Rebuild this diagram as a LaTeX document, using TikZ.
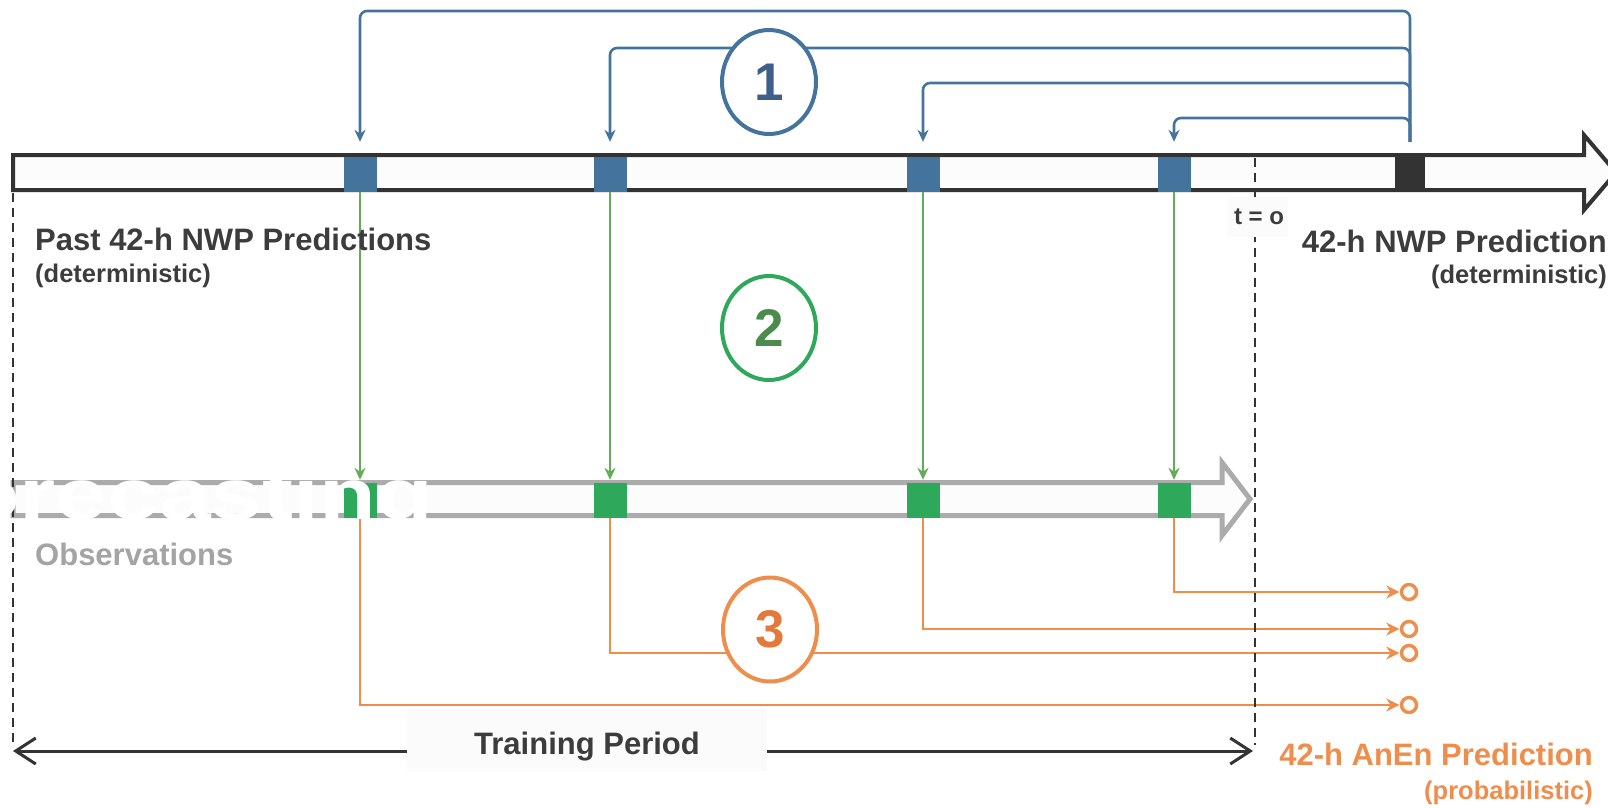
\documentclass[tikz,border=0pt]{standalone}
\usepackage{graphicx}
\usepackage{fontspec}
\setmainfont{Liberation Sans}
\usetikzlibrary{arrows.meta,shapes.geometric}

\definecolor{barline}{HTML}{333333}
\definecolor{nwpblue}{HTML}{44749D}
\definecolor{numblue}{HTML}{3E5F8A}
\definecolor{obsgreen}{HTML}{2EA85A}
\definecolor{linkgreen}{HTML}{62AE58}
\definecolor{numgreen}{HTML}{4B8B4B}
\definecolor{anenorange}{HTML}{EF8D4C}
\definecolor{numorange}{HTML}{E5793A}
\definecolor{obsgray}{HTML}{ABABAB}
\definecolor{obstext}{HTML}{A4A4A4}
\definecolor{labelgray}{HTML}{3C3C3C}
\definecolor{barfill}{HTML}{FCFCFC}
\definecolor{boxfill}{HTML}{FBFBFB}

\begin{document}
\begin{tikzpicture}[x=1pt,y=-1pt,
  bsq/.style={rectangle, fill=nwpblue, minimum width=33pt, minimum height=35pt, inner sep=0pt},
  gsq/.style={rectangle, fill=obsgreen, minimum width=33pt, minimum height=35pt, inner sep=0pt},
  ksq/.style={rectangle, fill=barline, minimum width=30pt, minimum height=35pt, inner sep=0pt},
  stepnum/.style={ellipse, line width=4pt, fill=white, minimum width=94pt, minimum height=104pt,
    inner sep=0pt, font=\fontsize{53}{60}\selectfont\bfseries},
  outc/.style={circle, draw=anenorange, line width=3.4pt, fill=white, minimum size=15pt, inner sep=0pt},
  bline/.style={draw=nwpblue, line width=2.6pt, rounded corners=7pt, -{Stealth[length=12pt,width=11pt]}},
  gline/.style={draw=linkgreen, line width=2pt, -{Stealth[length=12pt,width=11pt]}},
  oline/.style={draw=anenorange, line width=2.6pt, -{Stealth[length=13pt,width=13pt]}},
  tline/.style={draw=barline, line width=2.5pt, dash pattern=on 9pt off 6pt},
  bigtxt/.style={font=\fontsize{31}{36}\selectfont\bfseries, inner sep=0pt, text=labelgray},
  smalltxt/.style={font=\fontsize{25.5}{30}\selectfont\bfseries, inner sep=0pt, text=labelgray}]

\useasboundingbox (0,0) rectangle (1608,807);

% time axis of the NWP forecasts
\draw[barline, line width=4pt, fill=barfill, line join=miter]
  (13,155) -- (1584,155) -- (1584,135) -- (1616,172.5) -- (1584,210) -- (1584,190) -- (13,190) -- cycle;

% time axis of the observations
\draw[obsgray, line width=5pt, fill=barfill, line join=miter]
  (13,482.5) -- (1222,482.5) -- (1222,462.5) -- (1250,499) -- (1222,535.5) -- (1222,515.5) -- (13,515.5) -- cycle;

% past forecasts, current forecast, matching observations
\node[bsq] (b1) at (360,174.5) {};
\node[bsq] (b2) at (610,174.5) {};
\node[bsq] (b3) at (923,174.5) {};
\node[bsq] (b4) at (1174,174.5) {};
\node[ksq] (bk) at (1410,172.5) {};

\node[gsq] (g1) at (360,500.5) {};
\node[gsq] (g2) at (610,500.5) {};
\node[gsq] (g3) at (923,500.5) {};
\node[gsq] (g4) at (1174,500.5) {};

% analog outputs
\node[outc] (o1) at (1409,705) {};
\node[outc] (o2) at (1409,653) {};
\node[outc] (o3) at (1409,629) {};
\node[outc] (o4) at (1409,592) {};

% step 1: search for similar past forecasts
\coordinate (lv1) at (0,11);
\coordinate (lv2) at (0,48);
\coordinate (lv3) at (0,83);
\coordinate (lv4) at (0,118);
\draw[bline, shorten <=13pt, shorten >=15pt] (bk.north) |- (b1.north |- lv1) -- (b1.north);
\draw[bline, shorten <=13pt, shorten >=15pt] (bk.north) |- (b2.north |- lv2) -- (b2.north);
\draw[bline, shorten <=13pt, shorten >=15pt] (bk.north) |- (b3.north |- lv3) -- (b3.north);
\draw[bline, shorten <=13pt, shorten >=15pt] (bk.north) |- (b4.north |- lv4) -- (b4.north);

% step 2: take the verifying observations
\draw[gline, shorten >=3pt] (b1.south) -- (g1.north);
\draw[gline, shorten >=3pt] (b2.south) -- (g2.north);
\draw[gline, shorten >=3pt] (b3.south) -- (g3.north);
\draw[gline, shorten >=3pt] (b4.south) -- (g4.north);

% step 3: observations become ensemble members
\draw[oline, shorten >=0.5pt] (g1.south) |- (o1.west);
\draw[oline, shorten >=0.5pt] (g2.south) |- (o2.west);
\draw[oline, shorten >=0.5pt] (g3.south) |- (o3.west);
\draw[oline, shorten >=0.5pt] (g4.south) |- (o4.west);

% step markers
\node[stepnum, draw=nwpblue, text=numblue] (s1) at (769,82) {1};
\node[stepnum, draw=obsgreen, text=numgreen] (s2) at (769,328) {2};
\node[stepnum, draw=anenorange, text=numorange] (s3) at (770,629.5) {3};

% training window limits
\coordinate (dl1) at (13,193);
\coordinate (dl2) at (13,745);
\coordinate (dr1) at (1255,158);
\coordinate (dr2) at (1255,745);
\draw[tline] (dl1) -- (dl2);
\draw[tline] (dr1) -- (dr2);

\node[fill=boxfill, minimum width=61pt, minimum height=40pt, inner sep=0pt] (tbox) at (1257,217) {};
\node[font=\fontsize{24}{28}\selectfont\bfseries, text=labelgray, anchor=base, inner sep=0pt] (tzero) at (1259,224) {t = o};

% training period
\coordinate (tpl) at (13,751);
\coordinate (tpr) at (1253,751);
\draw[barline, line width=3pt, line cap=round,
  {Straight Barb[length=20pt,width=26pt,line width=3pt]}-{Straight Barb[length=20pt,width=26pt,line width=3pt]}]
  (tpl) -- (tpr);
\node[fill=boxfill, minimum width=360pt, minimum height=62pt, inner sep=0pt] (tpbox) at (587,740) {};
\node[bigtxt, anchor=base] (tptext) at (587,754) {Training Period};

% overprinted heading in white
\node[anchor=base east, text=white, font=\fontsize{72}{80}\selectfont\bfseries, inner sep=0pt] (fc) at (433,519)
  {\scalebox{1.29}[1]{Forecasting}};

% labels
\node[bigtxt, anchor=base west] (pastlbl) at (35,250) {Past 42-h NWP Predictions};
\node[smalltxt, anchor=base west] (pastsub) at (35,282.5) {(deterministic)};
\node[bigtxt, anchor=base east] (nwplbl) at (1607,252) {42-h NWP Prediction};
\node[smalltxt, anchor=base east] (nwpsub) at (1607,283) {(deterministic)};
\node[bigtxt, anchor=base west, text=obstext] (obslbl) at (35,565) {Observations};
\node[bigtxt, anchor=base east, text=anenorange] (anenlbl) at (1593,765) {42-h AnEn Prediction};
\node[smalltxt, anchor=base east, text=anenorange] (anensub) at (1593,799) {(probabilistic)};

\end{tikzpicture}
\end{document}
